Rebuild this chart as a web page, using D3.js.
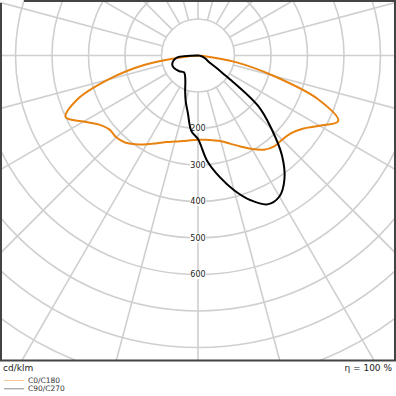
<!DOCTYPE html>
<html>
<head>
<meta charset="utf-8">
<script src="https://cdn.jsdelivr.net/npm/d3@7"></script>
<style>
  body { margin: 0; background: #fff; }
  svg { display: block; font-family: "DejaVu Sans", sans-serif; }
</style>
</head>
<body>
<svg id="chart" width="396" height="396"></svg>
<script>
// gamma angles (degrees from nadir) and intensities in cd/klm
const gamma = [0, 5, 10, 15, 20, 25, 30, 35, 40, 45, 50, 55, 60, 65, 70, 75, 80, 85, 90];
const c0   = [230, 232, 236, 243, 257, 275, 296, 315, 325, 326, 332, 350, 385, 424, 350, 212, 105, 15, 0];
const c180 = [231, 233, 238, 244, 252, 265, 281, 297, 311, 317, 316, 330, 362, 400, 352, 255, 150, 30, 0];
const c90  = [229, 290, 337, 382, 422, 450, 446, 413, 358, 285, 215, 75, 32, 25, 18, 12, 8, 4, 0];
const c270 = [229, 208, 160, 130, 103, 82, 70, 63, 60, 63, 67, 70, 73, 75, 75, 72, 66, 57, 0];

const rings = [100, 200, 300, 400, 500, 600, 700, 800, 900, 1000];
const ringLabels = [200, 300, 400, 500, 600];
const spokes = d3.range(0, 360, 15);

const svg = d3.select("#chart");
const W = 396, plotH = 361;
const cx = 198, cy = 55.5;

const r = d3.scaleLinear().domain([0, 1000]).range([0, 365]);
const rad = d => d * Math.PI / 180;

// clip area of the plot
svg.append("clipPath").attr("id", "clip")
  .append("rect").attr("x", 0).attr("y", 0).attr("width", W).attr("height", plotH);

const g = svg.append("g").attr("clip-path", "url(#clip)");
const p = g.append("g").attr("transform", `translate(${cx},${cy})`);

// grid
p.selectAll(".ring")
  .data(rings)
  .enter().append("circle")
  .attr("r", d => r(d))
  .attr("fill", "none")
  .attr("stroke", "#cfcfcf")
  .attr("stroke-width", 1.6);

p.selectAll(".spoke")
  .data(spokes)
  .enter().append("line")
  .attr("x1", d => r(100) * Math.sin(rad(d)))
  .attr("y1", d => r(100) * Math.cos(rad(d)))
  .attr("x2", d => r(1400) * Math.sin(rad(d)))
  .attr("y2", d => r(1400) * Math.cos(rad(d)))
  .attr("stroke", "#cfcfcf")
  .attr("stroke-width", 1.6);

// ring labels with white backing
const lab = p.selectAll(".lab")
  .data(ringLabels)
  .enter().append("g")
  .attr("transform", d => `translate(0,${r(d)})`);

lab.append("rect")
  .attr("x", -8).attr("y", -4.5)
  .attr("width", 16).attr("height", 9)
  .attr("fill", "#fff");

lab.append("text")
  .attr("text-anchor", "middle")
  .attr("dy", "0.35em")
  .style("font-size", "8px")
  .attr("fill", "#222")
  .text(d => d);

// curves: left half from 90 down to 0, then right half from 0 up to 90
function halfPoints(left, right) {
  const pts = [];
  for (let i = gamma.length - 1; i >= 0; i--) pts.push([Math.PI + rad(gamma[i]), r(left[i])]);
  for (let i = 1; i < gamma.length; i++) pts.push([Math.PI - rad(gamma[i]), r(right[i])]);
  return pts;
}

const line = d3.lineRadial()
  .angle(d => d[0])
  .radius(d => d[1])
  .curve(d3.curveCatmullRom.alpha(0.5));

p.append("path")
  .attr("d", line(halfPoints(c180, c0)))
  .attr("fill", "none")
  .attr("stroke", "#e8820e")
  .attr("stroke-width", 2);

p.append("path")
  .attr("d", line(halfPoints(c270, c90)))
  .attr("fill", "none")
  .attr("stroke", "#000")
  .attr("stroke-width", 2);

// frame (top edge starts a little right of the corner)
svg.append("path")
  .attr("d", `M24,1 H395 V360.5 H1 V3`)
  .attr("fill", "none")
  .attr("stroke", "#444")
  .attr("stroke-width", 2);

// bottom texts
svg.append("text")
  .attr("x", 3).attr("y", 371)
  .style("font-size", "9px")
  .attr("fill", "#222")
  .text("cd/klm");

svg.append("text")
  .attr("x", 392).attr("y", 371)
  .attr("text-anchor", "end")
  .style("font-size", "9px")
  .attr("fill", "#222")
  .text("η = 100 %");

// legend
const legend = [
  { name: "C0/C180", color: "#f6c898" },
  { name: "C90/C270", color: "#8a8a8a" }
];

const li = svg.selectAll(".legend")
  .data(legend)
  .enter().append("g")
  .attr("transform", (d, i) => `translate(0,${380.5 + i * 8.3})`);

li.append("line")
  .attr("x1", 4).attr("x2", 24)
  .attr("stroke", d => d.color)
  .attr("stroke-width", 1);

li.append("text")
  .attr("x", 28).attr("dy", "0.35em")
  .style("font-size", "7.5px")
  .attr("fill", "#333")
  .text(d => d.name);
</script>
</body>
</html>
